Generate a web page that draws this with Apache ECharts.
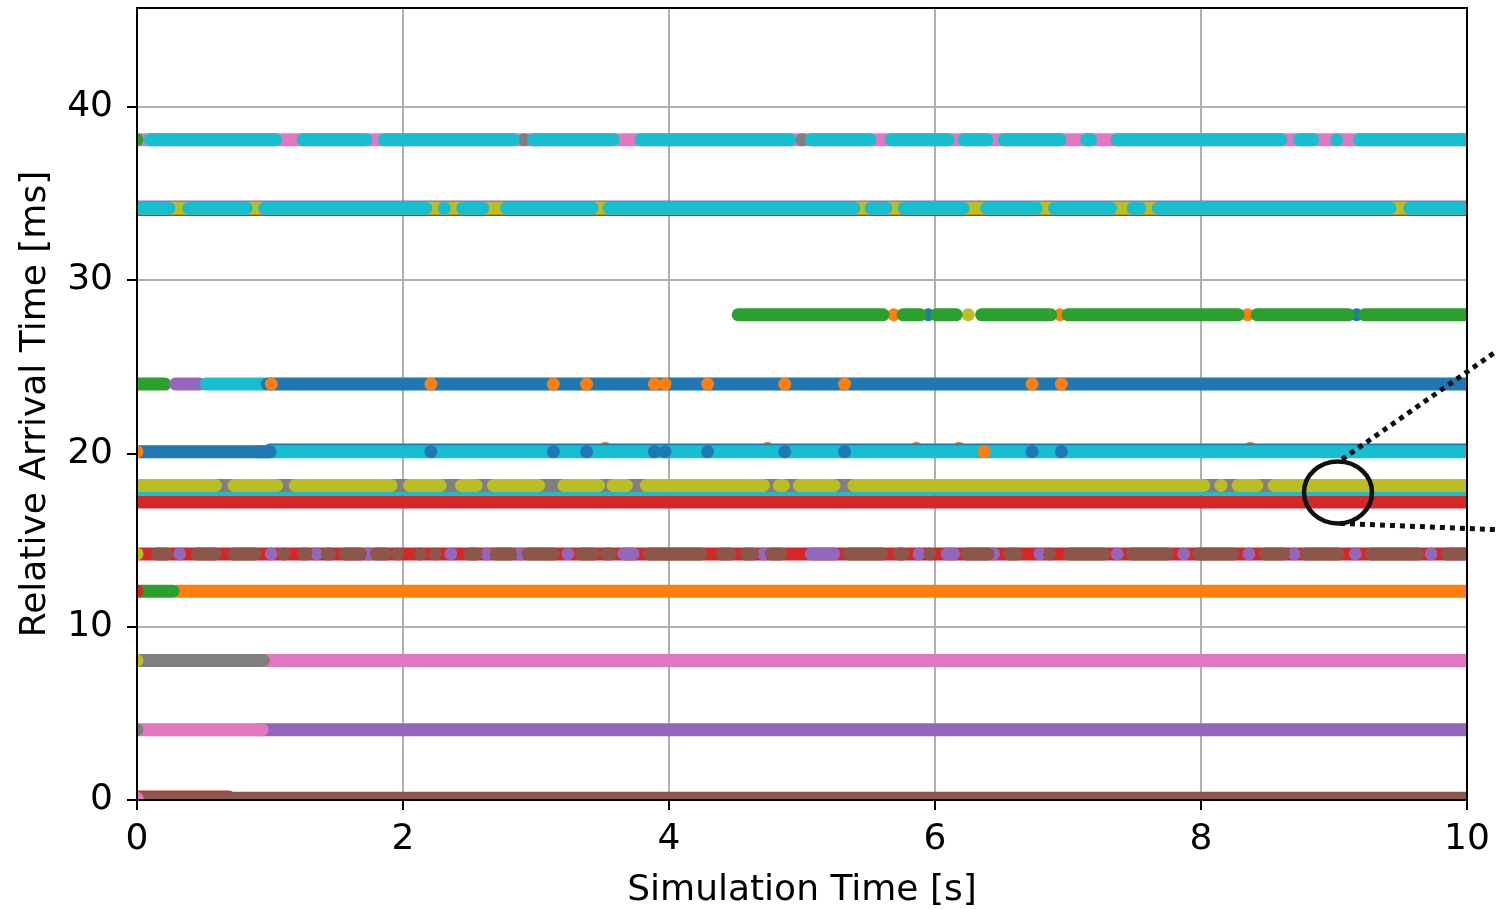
<!DOCTYPE html>
<html>
<head>
<meta charset="utf-8">
<style>
  html, body { margin: 0; padding: 0; background: #fff; }
  #chart { width: 1496px; height: 909px; }
</style>
<script src="https://cdn.jsdelivr.net/npm/echarts@6/dist/echarts.min.js"></script>
</head>
<body>
<div id="chart"></div>
<script>
// Flow index -> colour (matplotlib tab10 cycle)
const flowColors = ['#1f77b4', '#ff7f0e', '#2ca02c', '#d62728', '#9467bd',
                    '#8c564b', '#e377c2', '#7f7f7f', '#bcbd22', '#17becf'];

// Axis ranges and ticks
const xTicks = [0, 2, 4, 6, 8, 10];
const yTicks = [0, 10, 20, 30, 40];
const xRange = [0, 10];
const yRange = [0, 45.7];

// Packet arrivals: [flow, relative arrival time (ms), first sim time (s), last sim time (s)]
// Rows are listed bottom-to-top in drawing order; a single packet has first == last.
const lane38 = [
  [6, 38.1, 0, 10],
  [7, 38.1, 2.91, 2.91], [7, 38.1, 5.0, 5.0],
  [2, 38.1, 0, 0],
  [9, 38.1, 0.10, 1.04], [9, 38.1, 1.25, 1.72], [9, 38.1, 1.86, 2.83], [9, 38.1, 2.98, 3.58],
  [9, 38.1, 3.79, 4.91], [9, 38.1, 5.07, 5.51], [9, 38.1, 5.67, 6.10], [9, 38.1, 6.22, 6.39],
  [9, 38.1, 6.52, 6.94], [9, 38.1, 7.14, 7.17], [9, 38.1, 7.37, 8.60], [9, 38.1, 8.74, 8.84],
  [9, 38.1, 9.02, 9.02], [9, 38.1, 9.19, 10]
];

const lane34 = [
  [3, 34.08, 0, 10],
  [4, 34.22, 0, 10],
  [8, 34.15, 0, 10],
  [9, 34.15, 0, 0.24], [9, 34.15, 0.39, 0.82], [9, 34.15, 0.96, 2.17], [9, 34.15, 2.31, 2.31],
  [9, 34.15, 2.45, 2.60], [9, 34.15, 2.78, 3.42], [9, 34.15, 3.55, 5.39], [9, 34.15, 5.52, 5.63],
  [9, 34.15, 5.77, 6.21], [9, 34.15, 6.39, 6.76], [9, 34.15, 6.90, 7.32], [9, 34.15, 7.49, 7.54],
  [9, 34.15, 7.68, 9.42], [9, 34.15, 9.57, 10]
];

const lane28 = [
  [1, 28.0, 5.69, 5.69], [1, 28.0, 6.94, 6.94], [1, 28.0, 8.35, 8.35],
  [0, 28.0, 5.95, 5.95], [0, 28.0, 9.17, 9.17],
  [8, 28.0, 6.25, 6.25],
  [2, 28.0, 4.52, 5.61], [2, 28.0, 5.76, 5.89], [2, 28.0, 6.01, 6.16], [2, 28.0, 6.35, 6.87],
  [2, 28.0, 7.00, 8.28], [2, 28.0, 8.42, 9.11], [2, 28.0, 9.23, 10]
];

const lane24 = [
  [2, 24.0, 0, 0.21], [4, 24.0, 0.29, 0.47], [9, 24.0, 0.52, 0.95], [0, 24.0, 0.98, 10],
  [1, 24.0, 1.01, 1.01], [1, 24.0, 2.21, 2.21], [1, 24.0, 3.13, 3.13], [1, 24.0, 3.38, 3.38],
  [1, 24.0, 3.89, 3.89], [1, 24.0, 3.97, 3.97], [1, 24.0, 4.29, 4.29], [1, 24.0, 4.87, 4.87],
  [1, 24.0, 5.32, 5.32], [1, 24.0, 6.73, 6.73], [1, 24.0, 6.95, 6.95]
];

const lane20 = [
  [1, 20.29, 3.52, 3.52], [1, 20.29, 4.74, 4.74], [1, 20.29, 5.86, 5.86],
  [1, 20.29, 6.18, 6.18], [1, 20.29, 8.37, 8.37],
  [0, 20.2, 1.0, 10],
  [9, 20.1, 0.9, 10],
  [0, 20.1, 0, 1.0],
  [0, 20.1, 2.21, 2.21], [0, 20.1, 3.13, 3.13], [0, 20.1, 3.38, 3.38], [0, 20.1, 3.89, 3.89],
  [0, 20.1, 3.97, 3.97], [0, 20.1, 4.29, 4.29], [0, 20.1, 4.87, 4.87], [0, 20.1, 5.32, 5.32],
  [0, 20.1, 6.73, 6.73], [0, 20.1, 6.95, 6.95],
  [1, 20.1, 0, 0], [1, 20.1, 6.37, 6.37]
];

const lane18 = [
  [9, 17.94, 0, 10],
  [7, 18.15, 0, 10],
  [8, 18.15, 0, 0.59], [8, 18.15, 0.73, 1.05], [8, 18.15, 1.19, 1.91], [8, 18.15, 2.05, 2.28],
  [8, 18.15, 2.44, 2.55], [8, 18.15, 2.68, 3.02], [8, 18.15, 3.21, 3.47], [8, 18.15, 3.58, 3.68],
  [8, 18.15, 3.83, 4.71], [8, 18.15, 4.83, 4.86], [8, 18.15, 4.98, 5.24], [8, 18.15, 5.39, 8.02],
  [8, 18.15, 8.15, 8.15], [8, 18.15, 8.28, 8.42], [8, 18.15, 8.55, 10]
];

const lane17 = [
  [3, 17.2, 0, 10]
];

const lane14 = [
  [3, 14.2, 0, 10],
  [4, 14.2, 0.32, 0.32], [4, 14.2, 1.01, 1.01], [4, 14.2, 1.35, 1.35], [4, 14.2, 1.74, 1.74],
  [4, 14.2, 2.36, 2.36], [4, 14.2, 2.63, 2.63], [4, 14.2, 2.88, 2.88], [4, 14.2, 3.24, 3.24],
  [4, 14.2, 3.66, 3.73], [4, 14.2, 4.71, 4.71], [4, 14.2, 5.07, 5.24], [4, 14.2, 5.88, 5.88],
  [4, 14.2, 6.09, 6.14], [4, 14.2, 6.44, 6.44], [4, 14.2, 6.79, 6.79], [4, 14.2, 7.37, 7.37],
  [4, 14.2, 7.87, 7.87], [4, 14.2, 8.36, 8.36], [4, 14.2, 8.70, 8.70], [4, 14.2, 9.16, 9.16],
  [4, 14.2, 9.73, 9.73],
  [5, 14.2, 0.15, 0.22], [5, 14.2, 0.45, 0.59], [5, 14.2, 0.73, 0.89], [5, 14.2, 1.105, 1.105],
  [5, 14.2, 1.25, 1.27], [5, 14.2, 1.43, 1.45], [5, 14.2, 1.56, 1.68], [5, 14.2, 1.80, 1.87],
  [5, 14.2, 1.96, 1.96], [5, 14.2, 2.13, 2.13], [5, 14.2, 2.24, 2.24], [5, 14.2, 2.50, 2.55],
  [5, 14.2, 2.70, 2.81], [5, 14.2, 2.94, 3.13], [5, 14.2, 3.34, 3.43], [5, 14.2, 3.53, 3.56],
  [5, 14.2, 3.85, 4.24], [5, 14.2, 4.40, 4.46], [5, 14.2, 4.58, 4.63], [5, 14.2, 4.77, 4.84],
  [5, 14.2, 5.35, 5.60], [5, 14.2, 5.73, 5.76], [5, 14.2, 5.96, 5.96], [5, 14.2, 6.24, 6.40],
  [5, 14.2, 6.56, 6.61], [5, 14.2, 6.86, 6.86], [5, 14.2, 7.01, 7.27], [5, 14.2, 7.48, 7.75],
  [5, 14.2, 7.98, 8.24], [5, 14.2, 8.48, 8.62], [5, 14.2, 8.79, 9.03], [5, 14.2, 9.28, 9.63],
  [5, 14.2, 9.85, 10],
  [8, 14.2, 0, 0]
];

const lane12 = [
  [1, 12.05, 0.3, 10], [2, 12.05, 0, 0.27], [3, 12.05, 0, 0]
];

const lane8 = [
  [6, 8.05, 0.7, 10], [7, 8.05, 0, 0.95], [8, 8.05, 0, 0]
];

const lane4 = [
  [4, 4.06, 0.9, 10], [6, 4.06, 0, 0.94], [7, 4.06, 0, 0]
];

const lane0 = [
  [3, 0.18, 0, 0.69], [5, 0.1, 0, 10], [6, 0.1, 0, 0]
];

// Callout ring around the 17-18 ms lanes near t = 9 s
const calloutCenter = [9.03, 17.75];

const arrivals = [].concat(lane38, lane34, lane28, lane24, lane20, lane18,
                           lane17, lane14, lane12, lane8, lane4, lane0);

const MARKER = 13;             // marker diameter in px
const FONT = 'DejaVu Sans';

const chart = echarts.init(document.getElementById('chart'), null, { renderer: 'canvas' });

chart.setOption({
  animation: false,
  backgroundColor: '#ffffff',
  grid: { left: 137, right: 29, top: 8, bottom: 109, show: false, containLabel: false, outerBoundsMode: 'none' },
  xAxis: {
    type: 'value', min: xRange[0], max: xRange[1], interval: 2,
    name: 'Simulation Time [s]', nameLocation: 'middle', nameGap: 73,
    nameTextStyle: { fontFamily: FONT, fontSize: 36, color: '#000' },
    axisLine: { show: true, lineStyle: { color: '#000', width: 2 } },
    axisTick: { show: true, length: 10, lineStyle: { color: '#000', width: 2 }, customValues: xTicks },
    axisLabel: { fontFamily: FONT, fontSize: 36, color: '#000', margin: 22, customValues: xTicks },
    splitLine: { show: true, lineStyle: { color: '#b0b0b0', width: 2 } }
  },
  yAxis: {
    type: 'value', min: yRange[0], max: yRange[1], interval: 10,
    name: 'Relative Arrival Time [ms]', nameLocation: 'middle', nameGap: 83,
    nameTextStyle: { fontFamily: FONT, fontSize: 36, color: '#000' },
    axisLine: { show: true, lineStyle: { color: '#000', width: 2 } },
    axisTick: { show: true, length: 10, lineStyle: { color: '#000', width: 2 }, customValues: yTicks },
    axisLabel: { fontFamily: FONT, fontSize: 36, color: '#000', margin: 24, customValues: yTicks },
    splitLine: { show: true, lineStyle: { color: '#b0b0b0', width: 2 } }
  },
  series: [{
    type: 'custom',
    coordinateSystem: 'cartesian2d',
    clip: true,
    data: arrivals,
    encode: { x: [2, 3], y: 1 },
    renderItem: function (params, api) {
      const flow = api.value(0);
      const y = api.value(1);
      const a = api.coord([api.value(2), y]);
      const b = api.coord([api.value(3), y]);
      const r = MARKER / 2;
      return {
        type: 'rect',
        shape: { x: a[0] - r, y: a[1] - r, width: b[0] - a[0] + 2 * r, height: 2 * r, r: r },
        style: { fill: flowColors[flow] },
        z2: params.dataIndex
      };
    }
  }]
});

// Plot frame and callout drawn above the markers
const p0 = chart.convertToPixel({ gridIndex: 0 }, [xRange[0], yRange[0]]);
const p1 = chart.convertToPixel({ gridIndex: 0 }, [xRange[1], yRange[1]]);
const c = chart.convertToPixel({ gridIndex: 0 }, calloutCenter);
const rx = 34, ry = 31;
const dotted = { stroke: '#111', lineWidth: 5, lineDash: [5, 5], fill: null };

chart.setOption({
  graphic: [
    {
      type: 'rect', z: 100, silent: true,
      shape: { x: p0[0], y: p1[1], width: p1[0] - p0[0], height: p0[1] - p1[1] },
      style: { fill: null, stroke: '#000', lineWidth: 2 }
    },
    {
      type: 'ellipse', z: 101, silent: true,
      shape: { cx: c[0], cy: c[1], rx: rx, ry: ry },
      style: { fill: null, stroke: '#111', lineWidth: 4.5 }
    },
    {
      type: 'polyline', z: 101, silent: true,
      shape: { points: [[c[0] + 4, c[1] - ry - 2], [c[0] + 204, c[1] - ry - 142]] },
      style: dotted
    },
    {
      type: 'polyline', z: 101, silent: true,
      shape: { points: [[c[0] + 2, c[1] + ry], [c[0] + 202, c[1] + ry + 8]] },
      style: dotted
    }
  ]
});
</script>
</body>
</html>
